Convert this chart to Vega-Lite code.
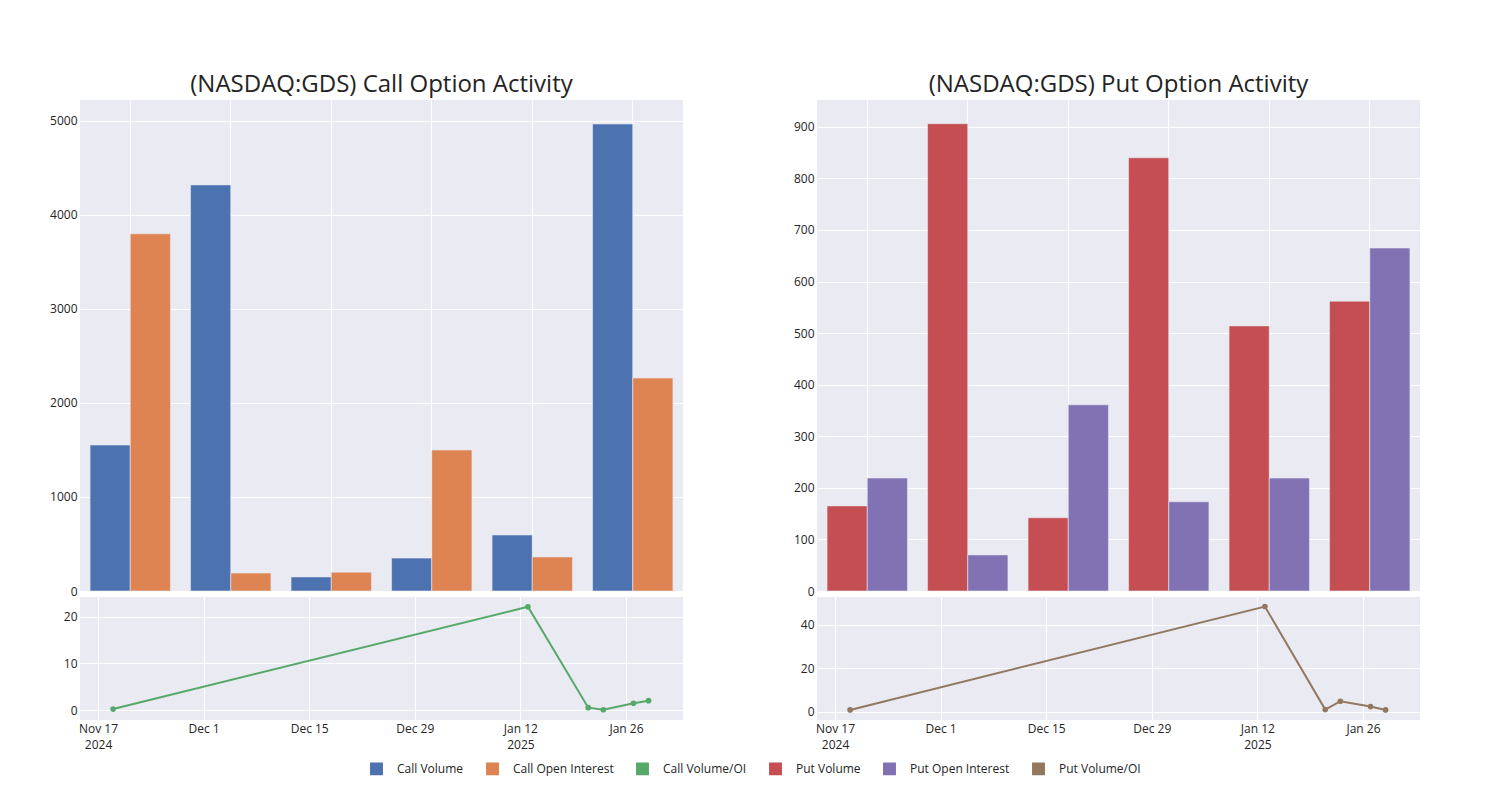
{
  "$schema": "https://vega.github.io/schema/vega-lite/v6.json",
  "padding": {"left": 49, "top": 73, "right": 5, "bottom": 5},
  "background": "white",
  "datasets": {
    "callBars": [
      {"week": "W1", "kind": "Volume", "series": "Call Volume", "value": 1553},
      {"week": "W1", "kind": "Open Interest", "series": "Call Open Interest", "value": 3800},
      {"week": "W2", "kind": "Volume", "series": "Call Volume", "value": 4320},
      {"week": "W2", "kind": "Open Interest", "series": "Call Open Interest", "value": 191},
      {"week": "W3", "kind": "Volume", "series": "Call Volume", "value": 150},
      {"week": "W3", "kind": "Open Interest", "series": "Call Open Interest", "value": 200},
      {"week": "W4", "kind": "Volume", "series": "Call Volume", "value": 350},
      {"week": "W4", "kind": "Open Interest", "series": "Call Open Interest", "value": 1500},
      {"week": "W5", "kind": "Volume", "series": "Call Volume", "value": 596},
      {"week": "W5", "kind": "Open Interest", "series": "Call Open Interest", "value": 362},
      {"week": "W6", "kind": "Volume", "series": "Call Volume", "value": 4968},
      {"week": "W6", "kind": "Open Interest", "series": "Call Open Interest", "value": 2266}
    ],
    "putBars": [
      {"week": "W1", "kind": "Volume", "series": "Put Volume", "value": 165},
      {"week": "W1", "kind": "Open Interest", "series": "Put Open Interest", "value": 219},
      {"week": "W2", "kind": "Volume", "series": "Put Volume", "value": 906},
      {"week": "W2", "kind": "Open Interest", "series": "Put Open Interest", "value": 70},
      {"week": "W3", "kind": "Volume", "series": "Put Volume", "value": 142},
      {"week": "W3", "kind": "Open Interest", "series": "Put Open Interest", "value": 361},
      {"week": "W4", "kind": "Volume", "series": "Put Volume", "value": 840},
      {"week": "W4", "kind": "Open Interest", "series": "Put Open Interest", "value": 173},
      {"week": "W5", "kind": "Volume", "series": "Put Volume", "value": 514},
      {"week": "W5", "kind": "Open Interest", "series": "Put Open Interest", "value": 219},
      {"week": "W6", "kind": "Volume", "series": "Put Volume", "value": 562},
      {"week": "W6", "kind": "Open Interest", "series": "Put Open Interest", "value": 665}
    ],
    "callLine": [
      {"date": "2024-11-19T00:00:00", "series": "Call Volume/OI", "ratio": 0.2},
      {"date": "2025-01-13T00:00:00", "series": "Call Volume/OI", "ratio": 22.2},
      {"date": "2025-01-21T00:00:00", "series": "Call Volume/OI", "ratio": 0.5},
      {"date": "2025-01-23T00:00:00", "series": "Call Volume/OI", "ratio": 0.05},
      {"date": "2025-01-27T00:00:00", "series": "Call Volume/OI", "ratio": 1.45},
      {"date": "2025-01-29T00:00:00", "series": "Call Volume/OI", "ratio": 2.0}
    ],
    "putLine": [
      {"date": "2024-11-19T00:00:00", "series": "Put Volume/OI", "ratio": 0.75},
      {"date": "2025-01-13T00:00:00", "series": "Put Volume/OI", "ratio": 48.4},
      {"date": "2025-01-21T00:00:00", "series": "Put Volume/OI", "ratio": 0.9},
      {"date": "2025-01-23T00:00:00", "series": "Put Volume/OI", "ratio": 4.75},
      {"date": "2025-01-27T00:00:00", "series": "Put Volume/OI", "ratio": 2.3},
      {"date": "2025-01-29T00:00:00", "series": "Put Volume/OI", "ratio": 0.75}
    ]
  },
  "config": {
    "font": "Open Sans",
    "view": {"fill": "#eaeaf2", "stroke": null},
    "axis": {"gridColor": "white", "gridWidth": 1, "domain": false, "ticks": false, "labelColor": "#242424", "labelFontSize": 12, "labelPadding": 3, "title": null},
    "title": {"fontSize": 24, "fontWeight": "normal", "color": "#242424", "baseline": "alphabetic", "offset": 3, "anchor": "middle", "frame": "group"}
  },
  "spacing": 110,
  "hconcat": [
    {
      "spacing": 0,
      "vconcat": [
        {
          "title": "(NASDAQ:GDS) Call Option Activity",
          "width": 603, "height": 491,
          "data": {"name": "callBars"},
          "mark": {"type": "bar", "stroke": "#eaeaf2", "strokeWidth": 0.6},
          "encoding": {
            "x": {"field": "week", "type": "nominal", "sort": null, "scale": {"paddingInner": 0.2, "paddingOuter": 0.1}, "axis": {"labels": false, "grid": true, "bandPosition": 0.5, "title": null}},
            "xOffset": {"field": "kind", "type": "nominal", "sort": ["Volume", "Open Interest"], "scale": {"paddingInner": 0, "paddingOuter": 0}},
            "y": {"field": "value", "type": "quantitative", "scale": {"domain": [0, 5223], "nice": false}, "axis": {"values": [0, 1000, 2000, 3000, 4000, 5000], "format": "d", "title": null}},
            "color": {"field": "series", "type": "nominal",
              "scale": {"domain": ["Call Volume", "Call Open Interest", "Call Volume/OI", "Put Volume", "Put Open Interest", "Put Volume/OI"], "range": ["#4c72b0", "#dd8452", "#55a868", "#c44e52", "#8172b3", "#937860"]},
              "legend": {"orient": "none", "legendX": 290, "legendY": 662, "direction": "horizontal", "title": null, "symbolSize": 130, "labelFontSize": 12, "labelColor": "#242424", "labelOffset": 14, "columnPadding": 19,
                "encode": {"symbols": {
                  "shape": {"value": {"expr": "(datum.index == 2 || datum.index == 5) ? 'M-2.4,0L2.4,0M-0.5,0A0.5,0.5,0,1,0,0.5,0A0.5,0.5,0,1,0,-0.5,0Z' : 'square'"}},
                  "strokeWidth": {"value": {"expr": "(datum.index == 2 || datum.index == 5) ? 2 : 0"}},
                  "stroke": {"value": {"expr": "scale('color', datum.value)"}}
                }}}
            }
          }
        },
        {
          "width": 603, "height": 123,
          "data": {"name": "callLine"},
          "mark": {"type": "line", "strokeWidth": 2, "point": {"filled": true, "size": 32}},
          "encoding": {
            "x": {"field": "date", "type": "temporal",
              "scale": {"domain": [{"year": 2024, "month": 11, "date": 14, "hours": 14, "minutes": 40}, {"year": 2025, "month": 2, "date": 2, "hours": 13, "minutes": 30}]},
              "axis": {"values": [{"year": 2024, "month": 11, "date": 17}, {"year": 2024, "month": 12, "date": 1}, {"year": 2024, "month": 12, "date": 15}, {"year": 2024, "month": 12, "date": 29}, {"year": 2025, "month": 1, "date": 12}, {"year": 2025, "month": 1, "date": 26}],
                "labelExpr": "[timeFormat(datum.value, '%b %-d'), ((month(datum.value)==10 && date(datum.value)==17) || (month(datum.value)==0 && date(datum.value)==12)) ? timeFormat(datum.value, '%Y') : '']",
                "labelLineHeight": 16, "labelFlush": false, "labelOverlap": false, "title": null}},
            "y": {"field": "ratio", "type": "quantitative", "scale": {"domain": [-2.15, 24.3], "nice": false, "zero": false}, "axis": {"values": [0, 10, 20], "title": null}},
            "color": {"field": "series", "type": "nominal",
              "scale": {"domain": ["Call Volume", "Call Open Interest", "Call Volume/OI", "Put Volume", "Put Open Interest", "Put Volume/OI"], "range": ["#4c72b0", "#dd8452", "#55a868", "#c44e52", "#8172b3", "#937860"]},
              "legend": null}
          }
        }
      ]
    },
    {
      "spacing": 0,
      "vconcat": [
        {
          "title": "(NASDAQ:GDS) Put Option Activity",
          "width": 603, "height": 491,
          "data": {"name": "putBars"},
          "mark": {"type": "bar", "stroke": "#eaeaf2", "strokeWidth": 0.6},
          "encoding": {
            "x": {"field": "week", "type": "nominal", "sort": null, "scale": {"paddingInner": 0.2, "paddingOuter": 0.1}, "axis": {"labels": false, "grid": true, "bandPosition": 0.5, "title": null}},
            "xOffset": {"field": "kind", "type": "nominal", "sort": ["Volume", "Open Interest"], "scale": {"paddingInner": 0, "paddingOuter": 0}},
            "y": {"field": "value", "type": "quantitative", "scale": {"domain": [0, 952], "nice": false}, "axis": {"values": [0, 100, 200, 300, 400, 500, 600, 700, 800, 900], "format": "d", "title": null}},
            "color": {"field": "series", "type": "nominal",
              "scale": {"domain": ["Call Volume", "Call Open Interest", "Call Volume/OI", "Put Volume", "Put Open Interest", "Put Volume/OI"], "range": ["#4c72b0", "#dd8452", "#55a868", "#c44e52", "#8172b3", "#937860"]},
              "legend": null}
          }
        },
        {
          "width": 603, "height": 123,
          "data": {"name": "putLine"},
          "mark": {"type": "line", "strokeWidth": 2, "point": {"filled": true, "size": 32}},
          "encoding": {
            "x": {"field": "date", "type": "temporal",
              "scale": {"domain": [{"year": 2024, "month": 11, "date": 14, "hours": 14, "minutes": 40}, {"year": 2025, "month": 2, "date": 2, "hours": 13, "minutes": 30}]},
              "axis": {"values": [{"year": 2024, "month": 11, "date": 17}, {"year": 2024, "month": 12, "date": 1}, {"year": 2024, "month": 12, "date": 15}, {"year": 2024, "month": 12, "date": 29}, {"year": 2025, "month": 1, "date": 12}, {"year": 2025, "month": 1, "date": 26}],
                "labelExpr": "[timeFormat(datum.value, '%b %-d'), ((month(datum.value)==10 && date(datum.value)==17) || (month(datum.value)==0 && date(datum.value)==12)) ? timeFormat(datum.value, '%Y') : '']",
                "labelLineHeight": 16, "labelFlush": false, "labelOverlap": false, "title": null}},
            "y": {"field": "ratio", "type": "quantitative", "scale": {"domain": [-3.9, 52.8], "nice": false, "zero": false}, "axis": {"values": [0, 20, 40], "title": null}},
            "color": {"field": "series", "type": "nominal",
              "scale": {"domain": ["Call Volume", "Call Open Interest", "Call Volume/OI", "Put Volume", "Put Open Interest", "Put Volume/OI"], "range": ["#4c72b0", "#dd8452", "#55a868", "#c44e52", "#8172b3", "#937860"]},
              "legend": null}
          }
        }
      ]
    }
  ]
}
